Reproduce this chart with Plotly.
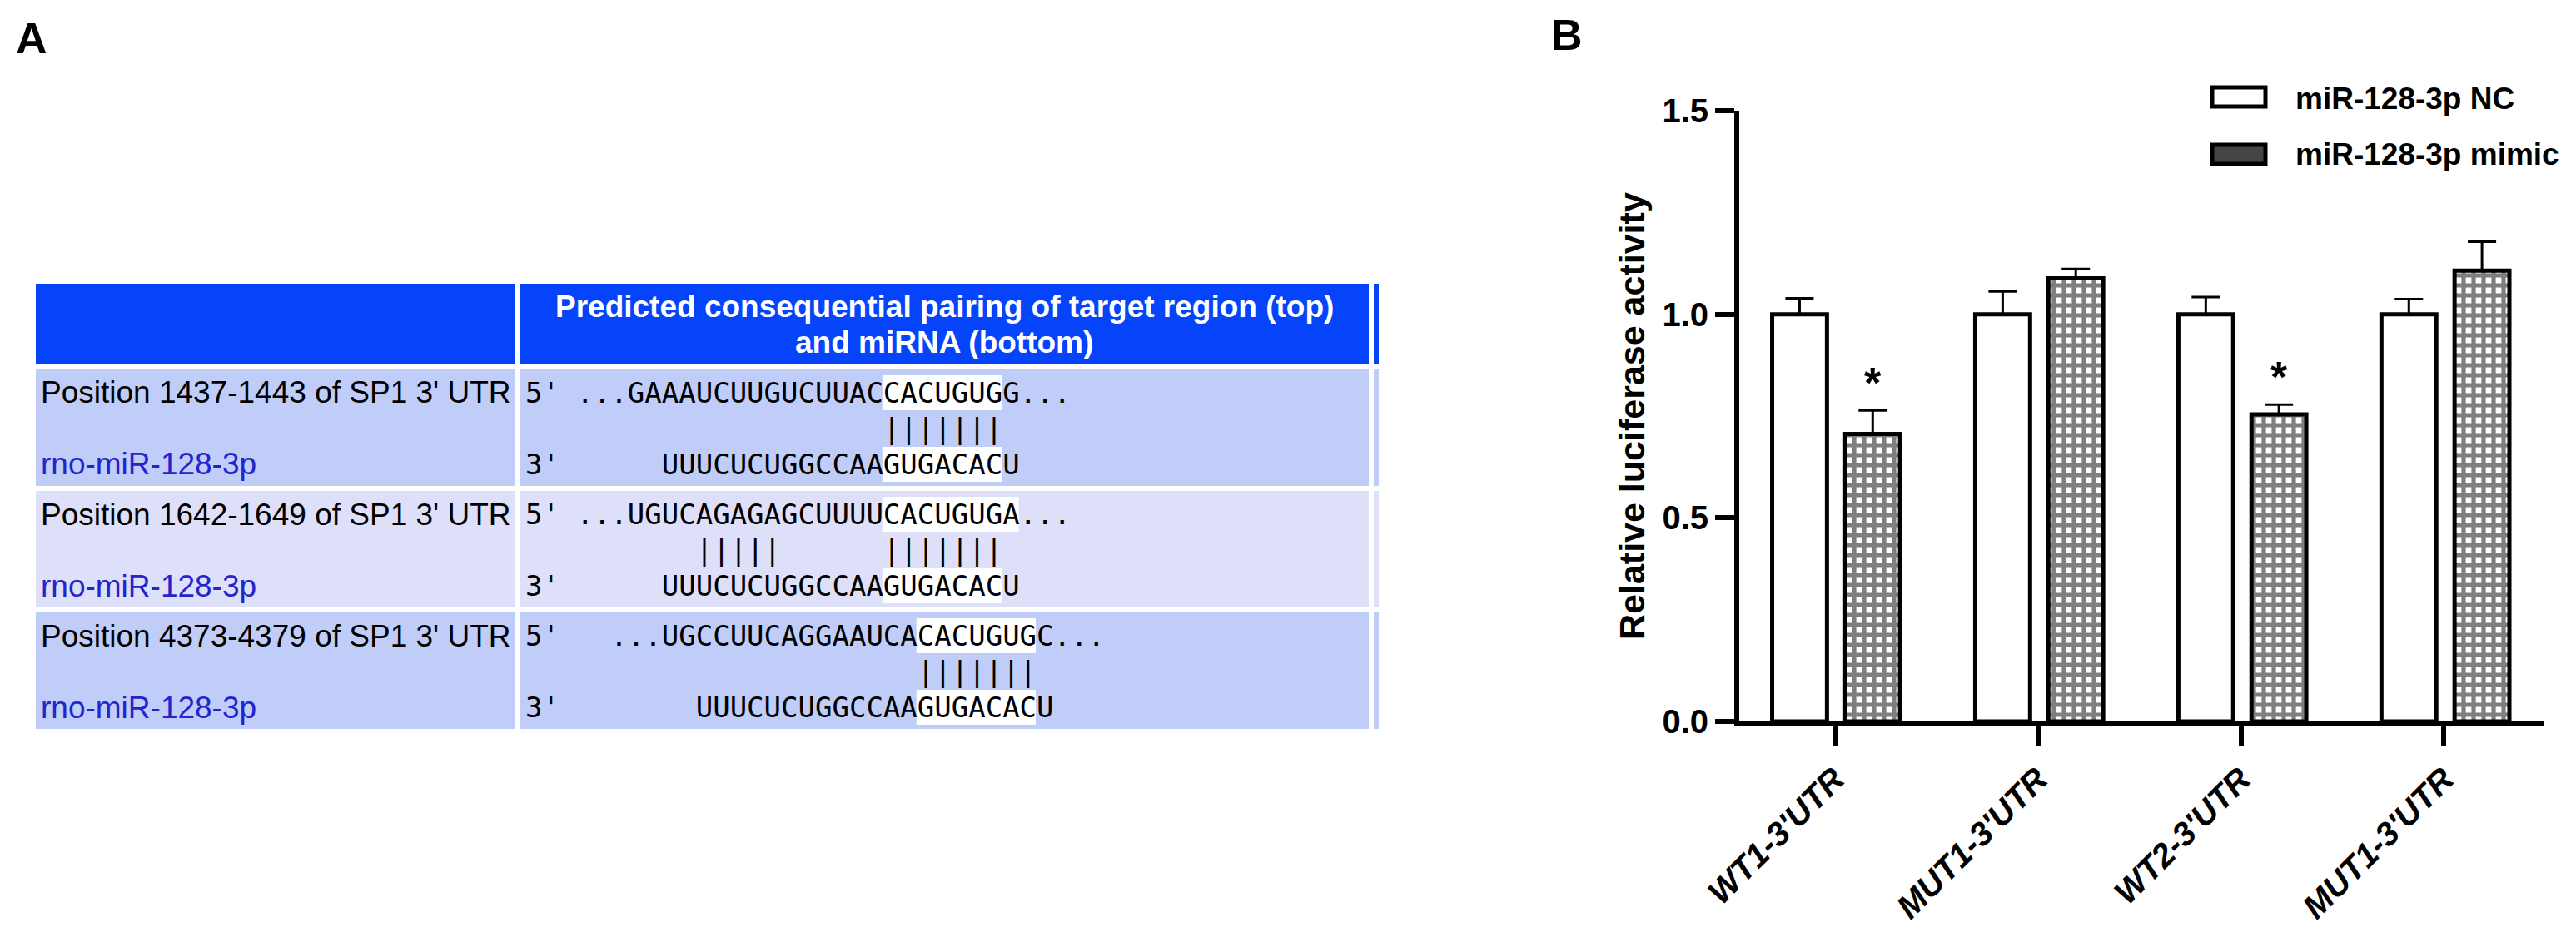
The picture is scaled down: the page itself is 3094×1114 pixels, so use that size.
import plotly.graph_objects as go

# ---- panel A: predicted pairing table ----
site_labels = ["Position 1437-1443 of SP1 3' UTR",
               "Position 1642-1649 of SP1 3' UTR",
               "Position 4373-4379 of SP1 3' UTR"]
mirna_label = "rno-miR-128-3p"
header_lines = ["Predicted consequential pairing of target region (top)",
                "and miRNA (bottom)"]
utr_seqs = ["GAAAUCUUGUCUUACCACUGUGG",
            "UGUCAGAGAGCUUUUCACUGUGA",
            "UGCCUUCAGGAAUCACACUGUGC"]
utr_col = [6, 6, 8]            # column where each UTR fragment starts
mirna_seq = "UUUCUCUGGCCAAGUGACACU"
mirna_col = [8, 8, 10]
site_span = [(15, 7), (15, 8), (15, 7)]   # highlighted site (index in UTR, length)
seed_span = (13, 7)                        # highlighted seed in miRNA
pair_idx = [list(range(15, 22)),
            list(range(4, 9)) + list(range(15, 22)),
            list(range(15, 22))]

# ---- panel B: luciferase reporter ----
groups = ["WT1-3'UTR", "MUT1-3'UTR", "WT2-3'UTR", "MUT1-3'UTR"]
nc_mean = [1.0, 1.0, 1.0, 1.0]
nc_err = [0.039, 0.056, 0.042, 0.037]
mimic_mean = [0.706, 1.088, 0.754, 1.107]
mimic_err = [0.058, 0.023, 0.024, 0.071]
signif = ["*", "", "*", ""]
series_names = ["miR-128-3p NC", "miR-128-3p mimic"]

W, H = 3094, 1114
NBSP = "\u00a0"
SANS = "Liberation Sans, Arial, sans-serif"
MONO = "DejaVu Sans Mono, Liberation Mono, monospace"


def fx(v):
    return v / W


def fy(v):
    return 1 - v / H


shapes, annos = [], []


def rect(x0, y0, x1, y1, fill, line=None, lw=0, layer='below'):
    shapes.append(dict(type='rect', xref='paper', yref='paper',
                       x0=fx(x0), x1=fx(x1), y0=fy(y1), y1=fy(y0),
                       fillcolor=fill, layer=layer,
                       line=dict(color=line or fill, width=lw)))


def text(x, y, s, size, color='black', bold=False, italic=False, family=SANS,
         xanchor='left', angle=0):
    annos.append(dict(xref='paper', yref='paper', x=fx(x), y=fy(y), text=s,
                      showarrow=False, xanchor=xanchor, yanchor='middle',
                      textangle=angle, borderpad=0,
                      font=dict(family=family, size=size, color=color,
                                weight='bold' if bold else 'normal',
                                style='italic' if italic else 'normal')))


def line_of(n, items):
    cells = [NBSP] * n
    for col, s in items:
        for k, ch in enumerate(s):
            cells[col + k] = ch
    return "".join(cells).rstrip(NBSP)


# table geometry (px)
HEAD_BLUE = '#0544fb'
ROW_COLS = ['#bfcdf8', '#dedff8', '#bfcdf8']
cols = [(35, 611), (617, 1636), (1642, 1648)]
head_y = (333, 429)
row_y = [(436, 576), (582, 722), (728, 868)]
x0_seq = 622
mono_size = 34
cw = 0.602 * mono_size

for c0, c1 in cols:
    rect(c0, head_y[0], c1, head_y[1], HEAD_BLUE)
for (r0, r1), rc in zip(row_y, ROW_COLS):
    for c0, c1 in cols:
        rect(c0, r0, c1, r1, rc)

text(1126, 360, header_lines[0], 37, color='white', bold=True, xanchor='center')
text(1126, 403, header_lines[1], 37, color='white', bold=True, xanchor='center')

for i, (r0, r1) in enumerate(row_y):
    y_top, y_pipe, y_bot = r0 + 28, r0 + 71, r0 + 114
    text(40, y_top, site_labels[i], 37)
    text(40, y_bot, mirna_label, 37, color='#2424cc')

    uc = utr_col[i]
    top = line_of(40, [(0, "5'"), (uc - 3, "..."), (uc, utr_seqs[i]),
                       (uc + len(utr_seqs[i]), "...")])
    bot = line_of(40, [(0, "3'"), (mirna_col[i], mirna_seq)])
    pipes = line_of(40, [(uc + p, "|") for p in pair_idx[i]])

    s, n = site_span[i]
    rect(x0_seq + (uc + s) * cw, y_top - 21, x0_seq + (uc + s + n) * cw, y_top + 21, 'white')
    s, n = seed_span
    mc = mirna_col[i]
    rect(x0_seq + (mc + s) * cw, y_bot - 21, x0_seq + (mc + s + n) * cw, y_bot + 21, 'white')

    text(x0_seq, y_top, top, mono_size, family=MONO)
    text(x0_seq, y_pipe, pipes, mono_size, family=MONO)
    text(x0_seq, y_bot, bot, mono_size, family=MONO)

# panel letters
text(30, 38, "A", 52, bold=True, xanchor='center')
text(1874, 34, "B", 52, bold=True, xanchor='center')

# ---- bar chart ----
xs = list(range(len(groups)))
bar_w = 0.27
off_nc, off_mimic = -0.308, 0.052

fig = go.Figure()
fig.add_trace(go.Bar(
    x=xs, y=nc_mean, width=bar_w, offset=off_nc, name=series_names[0],
    marker=dict(color='white', line=dict(color='black', width=5)),
    error_y=dict(type='data', array=nc_err, arrayminus=[0] * len(xs),
                 symmetric=False, color='black', thickness=3, width=17),
    showlegend=False,
))
fig.add_trace(go.Bar(
    x=xs, y=mimic_mean, width=bar_w, offset=off_mimic, name=series_names[1],
    marker=dict(color='white', line=dict(color='black', width=5),
                pattern=dict(shape='+', fgcolor='black', bgcolor='white',
                             size=12, solidity=0.68)),
    error_y=dict(type='data', array=mimic_err, arrayminus=[0] * len(xs),
                 symmetric=False, color='black', thickness=3, width=17),
    showlegend=False,
))

for i, s in enumerate(signif):
    if s:
        annos.append(dict(xref='x', yref='y', x=i + off_mimic + bar_w / 2,
                          y=mimic_mean[i] + mimic_err[i], yanchor='bottom',
                          yshift=2, text=s, showarrow=False,
                          font=dict(family=SANS, size=52, weight='bold', color='black')))

# legend drawn by hand (wide keys)
rect(2649, 97, 2713, 120, 'white', line='black', lw=5, layer='above')
rect(2649, 166, 2713, 189, '#454545', line='black', lw=5, layer='above')
text(2748, 110, series_names[0], 37, bold=True)
text(2748, 178, series_names[1], 37, bold=True)

# y axis title
text(1952, 492, "Relative luciferase activity", 43, bold=True, xanchor='center', angle=-90)

fig.update_layout(
    width=W, height=H,
    margin=dict(l=0, r=0, t=0, b=0),
    paper_bgcolor='white', plot_bgcolor='white',
    barmode='overlay',
    shapes=shapes, annotations=annos,
    xaxis=dict(domain=[fx(2081), fx(3047)], range=[-0.47, 3.49],
               tickvals=xs, ticktext=groups, tickangle=-45,
               ticks='outside', ticklen=24, tickwidth=6, tickcolor='black',
               showline=True, linewidth=6, linecolor='black',
               showgrid=False, zeroline=False, automargin=False,
               tickfont=dict(family=SANS, size=40, weight='bold',
                             style='italic', color='black')),
    yaxis=dict(domain=[fy(859), fy(125)], range=[0, 1.5],
               tickvals=[0, 0.5, 1.0, 1.5], tickformat='.1f',
               ticks='outside', ticklen=23, tickwidth=6, tickcolor='black',
               showline=True, linewidth=6, linecolor='black',
               showgrid=False, zeroline=False, automargin=False,
               tickfont=dict(family=SANS, size=40, weight='bold', color='black')),
)

fig.write_html("out.html")
